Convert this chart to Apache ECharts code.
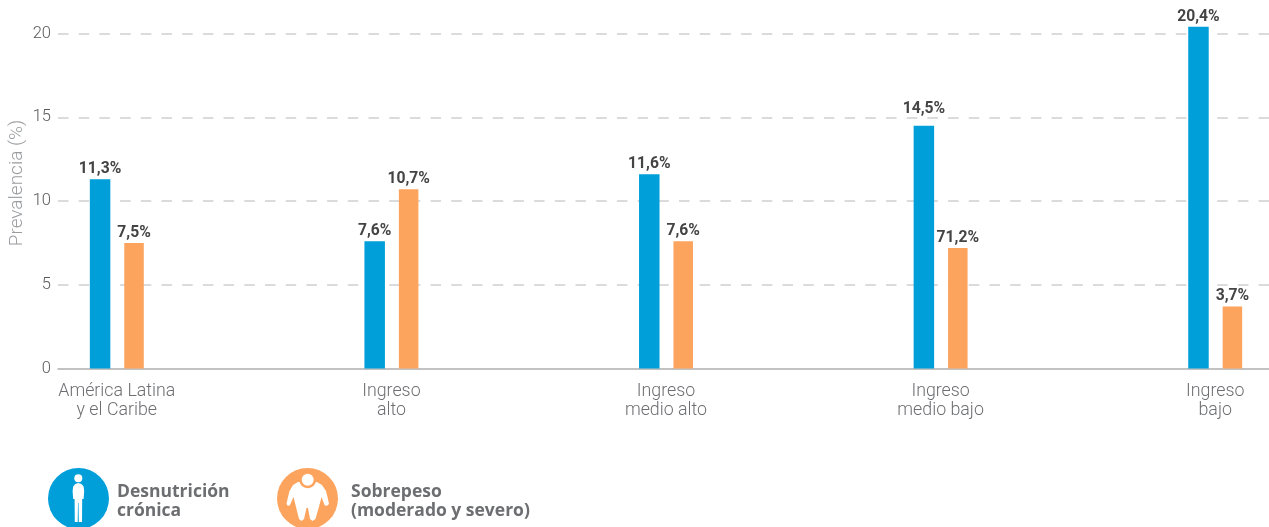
<!DOCTYPE html>
<html><head><meta charset="utf-8">
<style>html,body{margin:0;padding:0;background:#fff}#c{width:1269px;height:527px}</style>
<script src="https://cdn.jsdelivr.net/npm/echarts@6/dist/echarts.min.js"></script>
</head><body><div id="c"></div>
<script>
const categories = ['América Latina\ny el Caribe','Ingreso\nalto','Ingreso\nmedio alto','Ingreso\nmedio bajo','Ingreso\nbajo'];
const desnutricion = [11.3,7.6,11.6,14.5,20.4];
const sobrepeso = [7.5,10.7,7.6,7.2,3.7];
const desnutricionLabels = ['11,3%','7,6%','11,6%','14,5%','20,4%'];
const sobrepesoLabels = ['7,5%','10,7%','7,6%','71,2%','3,7%'];
const yTicks = [0,5,10,15,20];
const seriesNames = ['Desnutrición crónica','Sobrepeso (moderado y severo)'];
const legendLines = {'Desnutrición crónica':['Desnutrición','crónica'],'Sobrepeso (moderado y severo)':['Sobrepeso','(moderado y severo)']};

const BLUE='#009fda', ORANGE='#fca35d', FONT='Roboto, "Liberation Sans", sans-serif';
const chart = echarts.init(document.getElementById('c'),null,{renderer:'canvas'});
const barLabel = arr => ({show:true,position:'top',distance:2,color:'#444',fontFamily:FONT,fontWeight:700,fontSize:15.7,
  formatter:p=>arr[p.dataIndex]});
const legendFont = {color:'#6d6e71',fontFamily:'"Open Sans", Roboto, sans-serif',fontWeight:700,fontSize:17.5,lineHeight:19};
const legend = (name,left,gap)=>({data:[{name,icon:'circle'}],left,top:468,itemWidth:61,itemHeight:61,itemGap:0,orient:'horizontal',padding:0,
  selectedMode:false,formatter:n=>'{a|'+legendLines[n][0]+'}\n{b|'+legendLines[n][1]+'}',
  textStyle:{...legendFont,padding:[0,0,0,gap],rich:{a:{...legendFont,lineHeight:25,verticalAlign:'bottom'},b:{...legendFont}}}});
const personIcon=[[75.2,484],[78.2,483],[81.5,484],[83.6,486.5],[84.2,491],[83.6,499],[82.2,499],[82,522],[78.8,522],[78.5,503],[78,503],[77.7,522],[74.8,522],[74.6,499],[73.2,499],[72.6,491],[73.2,486.5]];
const bodyIcon=[[298,482],[317,482],[322,485],[326,491],[327.5,497],[329,504],[326.5,506],[324.5,505],[321.5,497],[320,503],[315.5,519],[312.5,521],[310,519],[308,508],[306.5,508],[304,519],[301.5,521],[299,519],[295,503],[293.5,497],[290,505],[288,506],[286.5,504],[288,497],[289.5,491],[293,485]];
chart.setOption({
  animation:false,
  backgroundColor:'#fff',
  legend:[legend(seriesNames[0],48,3),legend(seriesNames[1],277,8)],
  grid:[
    {left:58,right:0,top:33.5,height:335,containLabel:false,outerBoundsMode:'none'},
    {left:-20.5,width:1373,top:33.5,height:335,containLabel:false,outerBoundsMode:'none'}
  ],
  xAxis:[
    {type:'value',gridIndex:0,min:0,max:1,axisLine:{show:true,onZero:false,lineStyle:{color:'#aeaeae',width:1.5}},axisTick:{show:false},axisLabel:{show:false},splitLine:{show:false}},
    {type:'category',gridIndex:1,data:categories,axisLine:{show:false},axisTick:{show:false},
     axisLabel:{color:'#6d6e71',fontFamily:FONT,fontWeight:300,fontSize:17.8,lineHeight:19,margin:14,interval:0}}
  ],
  yAxis:[
    {type:'value',gridIndex:0,min:yTicks[0],max:yTicks[4],interval:5,
     name:'Prevalencia (%)',nameLocation:'middle',nameGap:31,nameMoveOverlap:false,
     nameTextStyle:{color:'#9a9c9f',fontFamily:FONT,fontWeight:300,fontSize:19,padding:[0,0,0,36]},
     axisLine:{show:false},axisTick:{show:false},
     axisLabel:{color:'#58595b',fontFamily:FONT,fontWeight:300,fontSize:16.5,margin:7},
     splitLine:{lineStyle:{color:'#cfcfcf',width:1.5,type:[10.5,10.2]},showMinLine:false}},
    {type:'value',gridIndex:1,min:yTicks[0],max:yTicks[4],interval:5,show:false}
  ],
  series:[
    {name:seriesNames[0],type:'bar',xAxisIndex:1,yAxisIndex:1,
     data:desnutricion.map((v,i)=>i===3?{value:v,label:{distance:9}}:v),barWidth:20.5,barGap:'68%',clip:false,
     itemStyle:{color:BLUE},label:barLabel(desnutricionLabels)},
    {name:seriesNames[1],type:'bar',xAxisIndex:1,yAxisIndex:1,data:sobrepeso,barWidth:19.5,clip:false,
     itemStyle:{color:ORANGE},label:barLabel(sobrepesoLabels)}
  ],
  graphic:[
    {type:'circle',shape:{cx:78.3,cy:478.3,r:4},style:{fill:'#fff'},z:10},
    {type:'polygon',shape:{points:personIcon},style:{fill:'#fff'},z:10},
    {type:'polygon',shape:{points:bodyIcon},style:{fill:'#fff'},z:10},
    {type:'circle',shape:{cx:307.7,cy:479.8,r:8.5},style:{fill:ORANGE},z:11},
    {type:'circle',shape:{cx:307.7,cy:479.8,r:6},style:{fill:'#fff'},z:12}
  ]
});
</script></body></html>
